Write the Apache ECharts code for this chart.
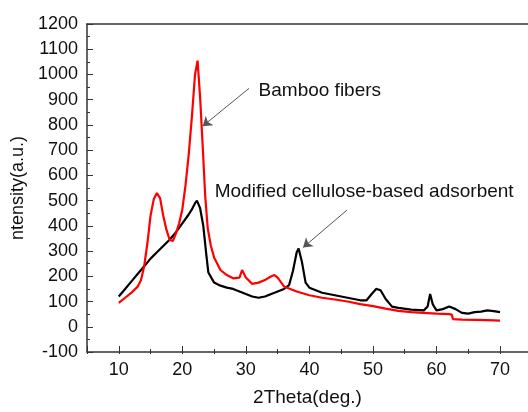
<!DOCTYPE html>
<html>
<head>
<meta charset="utf-8">
<script src="https://cdn.jsdelivr.net/npm/echarts@6/dist/echarts.min.js"></script>
<style>
  html, body { margin: 0; padding: 0; background: #fff; }
  #chart { width: 528px; height: 412px; }
</style>
</head>
<body>
<div id="chart"></div>
<script>
// XRD patterns (2Theta in degrees, intensity in a.u.)
const bambooX = [10, 11, 12, 13, 13.5, 14, 14.5, 15, 15.5, 16, 16.5, 17, 17.5, 18, 18.5, 19, 19.5, 20, 20.5, 21, 21.5, 22, 22.4, 22.8, 23.2, 23.6, 24, 24.5, 25, 26, 27, 28, 29, 29.4, 30, 31, 32, 33, 34, 34.5, 35, 36, 37, 38, 40, 42, 44, 46, 48, 50, 52, 54, 56, 58, 60, 62, 62.4, 62.6, 64, 66, 68, 70];
const bambooY = [95, 115, 135, 160, 185, 240, 330, 440, 505, 530, 510, 440, 385, 345, 340, 370, 410, 465, 560, 680, 830, 1000, 1055, 910, 720, 520, 390, 320, 275, 225, 205, 192, 195, 225, 195, 170, 175, 185, 200, 205, 195, 160, 150, 140, 125, 115, 108, 100, 90, 82, 72, 63, 58, 55, 52, 50, 48, 30, 28, 27, 26, 24];

const adsorbentX = [10, 11, 12, 13, 14, 15, 16, 17, 18, 19, 20, 21, 21.5, 22, 22.3, 22.8, 23.3, 23.8, 24.1, 25, 26, 27, 28, 29, 30, 31, 32, 33, 34, 35, 36, 36.8, 37.4, 38, 38.3, 38.8, 39.4, 40, 42, 44, 46, 48, 49, 49.8, 50.5, 51.2, 52, 53, 54, 56, 58, 58.6, 59, 59.4, 60, 61, 62, 63, 64, 65, 66, 67, 68, 69, 70];
const adsorbentY = [120, 150, 180, 210, 240, 270, 295, 320, 345, 375, 410, 445, 465, 490, 500, 470, 400, 280, 215, 175, 163, 155, 150, 140, 130, 120, 115, 120, 130, 140, 150, 165, 220, 295, 310, 260, 175, 155, 135, 125, 115, 105, 105, 130, 150, 145, 110, 80, 75, 68, 65, 80, 130, 90, 65, 70, 80, 70, 55, 52, 58, 60, 65, 62, 58];

const seriesNames = ['Bamboo fibers', 'Modified cellulose-based adsorbent'];

const pairs = (xs, ys) => xs.map((x, i) => [x, ys[i]]);

const FONT = '"Liberation Sans", Arial, sans-serif';
const AXIS_COLOR = '#333';
// 2Theta range of the frame; ticks fall on the round tens inside it
const X_MIN = 5, X_MAX = 74.4;
const PLOT_LEFT = 87, PLOT_TOP = 24, PLOT_W = 441, PLOT_H = 330;
const BOTTOM = PLOT_TOP + PLOT_H;

const chart = echarts.init(document.getElementById('chart'));

const arrowLine = (from, to) => ({
  silent: true,
  symbol: ['none', 'arrow'],
  symbolSize: 9,
  lineStyle: { color: '#555', width: 1, type: 'solid' },
  itemStyle: { color: '#333' },
  label: { show: false },
  emphasis: { disabled: true },
  data: [[{ coord: from }, { coord: to }]]
});

const textMark = (coord, text) => ({
  silent: true,
  symbolSize: 0,
  label: {
    show: true,
    position: 'right',
    distance: 0,
    formatter: text,
    color: '#111',
    fontSize: 19,
    fontFamily: FONT
  },
  data: [{ coord: coord }]
});

// thin strips along the bottom edge whose split lines act as the tick marks
const stripAxis = (gridIndex, major) => ({
  gridIndex, type: 'value', min: X_MIN, max: X_MAX, splitNumber: 7,
  axisLine: { show: false, onZero: false },
  axisTick: { show: false },
  axisLabel: { show: false },
  splitLine: { show: major, lineStyle: { color: AXIS_COLOR, width: 1 } },
  minorTick: { show: false, splitNumber: 2 },
  minorSplitLine: { show: !major, lineStyle: { color: AXIS_COLOR, width: 1 } }
});
const hiddenY = (gridIndex) => ({
  gridIndex, type: 'value', min: 0, max: 1,
  axisLine: { show: false }, axisTick: { show: false },
  axisLabel: { show: false }, splitLine: { show: false }
});

chart.setOption({
  animation: false,
  backgroundColor: '#fff',
  grid: [
    { left: PLOT_LEFT, top: PLOT_TOP, width: PLOT_W, height: PLOT_H, show: false },
    { left: PLOT_LEFT, top: BOTTOM - 6, width: PLOT_W, height: 6, show: false },
    { left: PLOT_LEFT, top: BOTTOM - 3, width: PLOT_W, height: 3, show: false }
  ],
  xAxis: [
    {
      gridIndex: 0, type: 'value', min: X_MIN, max: X_MAX, splitNumber: 7,
      position: 'bottom',
      name: '2Theta(deg.)', nameLocation: 'middle', nameGap: 36,
      nameTextStyle: { fontSize: 19, color: '#111', fontFamily: FONT },
      axisLine: { show: true, onZero: false, lineStyle: { color: AXIS_COLOR, width: 1.5 } },
      axisTick: { show: true, inside: true, length: 6, lineStyle: { color: AXIS_COLOR, width: 1 } },
      minorTick: { show: true, splitNumber: 2, length: 3, lineStyle: { color: AXIS_COLOR, width: 1 } },
      axisLabel: { showMinLabel: false, showMaxLabel: false, margin: 9, fontSize: 18, color: '#111', fontFamily: FONT },
      splitLine: { show: false }
    },
    {
      // top edge of the frame
      gridIndex: 0, type: 'value', min: X_MIN, max: X_MAX, position: 'top',
      axisLine: { show: true, onZero: false, lineStyle: { color: AXIS_COLOR, width: 1.5 } },
      axisTick: { show: false },
      axisLabel: { show: false },
      splitLine: { show: false }
    },
    stripAxis(1, true),
    stripAxis(2, false)
  ],
  yAxis: [
    {
      gridIndex: 0, type: 'value', min: -100, max: 1200, interval: 100,
      name: 'ntensity(a.u.)', nameLocation: 'middle', nameGap: 48,
      nameTextStyle: { fontSize: 18, color: '#111', fontFamily: FONT },
      axisLine: { show: true, onZero: false, lineStyle: { color: AXIS_COLOR, width: 1.5 } },
      axisTick: { show: true, inside: true, length: 6, lineStyle: { color: AXIS_COLOR, width: 1 } },
      minorTick: { show: true, splitNumber: 2, length: 3, lineStyle: { color: AXIS_COLOR, width: 1 } },
      axisLabel: { margin: 9, fontSize: 18, color: '#111', fontFamily: FONT, formatter: (v) => String(v) },
      splitLine: { show: false }
    },
    hiddenY(1),
    hiddenY(2)
  ],
  series: [
    {
      name: seriesNames[1],
      type: 'line',
      xAxisIndex: 0, yAxisIndex: 0,
      data: pairs(adsorbentX, adsorbentY),
      showSymbol: false,
      lineStyle: { color: '#000', width: 2.2 },
      markLine: arrowLine([45.9, 462], [39.0, 314]),
      markPoint: textMark([25.1, 535], seriesNames[1])
    },
    {
      name: seriesNames[0],
      type: 'line',
      xAxisIndex: 0, yAxisIndex: 0,
      data: pairs(bambooX, bambooY),
      showSymbol: false,
      lineStyle: { color: '#ff0000', width: 2.2 },
      markLine: arrowLine([30.5, 945], [23.2, 795]),
      markPoint: textMark([32.0, 937], seriesNames[0])
    }
  ]
});
</script>
</body>
</html>
